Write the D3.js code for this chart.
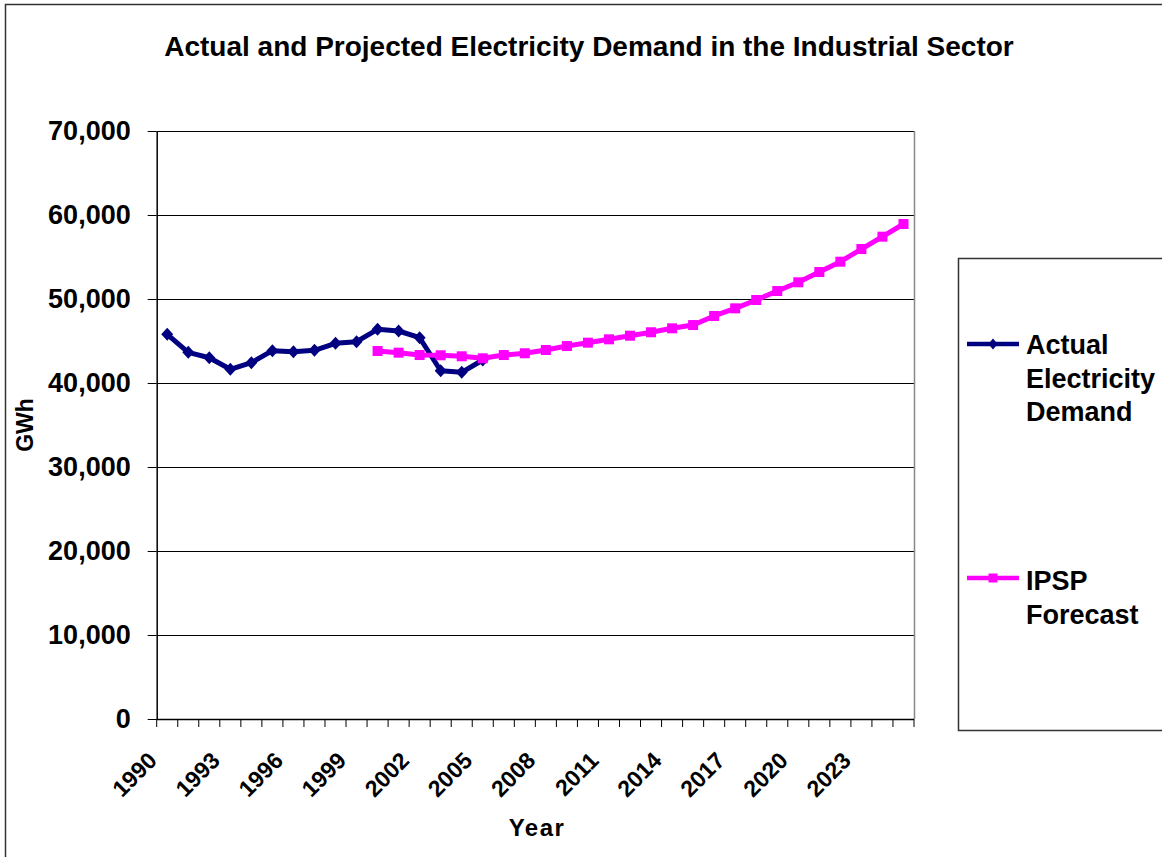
<!DOCTYPE html>
<html>
<head>
<meta charset="utf-8">
<script src="https://cdn.jsdelivr.net/npm/d3@7"></script>
<style>
  html, body { margin: 0; padding: 0; background: #fff; }
  svg { display: block; font-family: "Liberation Sans", Arial, sans-serif; font-weight: bold; }
</style>
</head>
<body>
<svg id="chart" width="1162" height="857"></svg>
<script>
// ---- data ----
const years = d3.range(1990, 2026);            // categories 1990..2025
const xTickLabels = [1990, 1993, 1996, 1999, 2002, 2005, 2008, 2011, 2014, 2017, 2020, 2023];
const yTicks = [0, 10000, 20000, 30000, 40000, 50000, 60000, 70000];

const actualYears = d3.range(1990, 2006);
const actualValues = [45800, 43650, 43010, 41630, 42420, 43850, 43730, 43890, 44730, 44920,
                      46390, 46190, 45390, 41460, 41270, 42740];

const forecastYears = d3.range(2000, 2026);
const forecastValues = [43810, 43610, 43330, 43300, 43180, 42940, 43330, 43540, 43930, 44400,
                        44800, 45200, 45630, 46040, 46510, 46900, 47980, 48890, 49880, 50950,
                        51990, 53210, 54440, 55950, 57420, 58930];

const seriesNames = [["Actual", "Electricity", "Demand"], ["IPSP", "Forecast"]];
const title = "Actual and Projected Electricity Demand in the Industrial Sector";

// ---- layout ----
const svg = d3.select("#chart");
const plot = { left: 156.7, right: 914, top: 131, bottom: 719 };

const x = d3.scaleBand().domain(years).range([plot.left, plot.right]).padding(0);
const cx = d => x(d) + x.bandwidth() / 2;
const y = d3.scaleLinear().domain([0, 70000]).range([plot.bottom, plot.top]);

// custom diamond symbol (Excel-like, nearly square rotated)
const excelDiamond = (hw, hh) => ({
  draw(ctx) { ctx.moveTo(0, -hh); ctx.lineTo(hw, 0); ctx.lineTo(0, hh); ctx.lineTo(-hw, 0); ctx.closePath(); }
});

// outer border
svg.append("rect").attr("x", 5.5).attr("y", 4.5).attr("width", 1200).attr("height", 900)
  .attr("fill", "none").attr("stroke", "#333").attr("stroke-width", 1.5);

// title
svg.append("text").attr("x", 589).attr("y", 56).attr("text-anchor", "middle")
  .attr("font-size", 28).attr("fill", "#000").text(title);

// gridlines
svg.append("g").selectAll("line").data(yTicks.filter(d => d > 0)).join("line")
  .attr("x1", plot.left).attr("x2", plot.right)
  .attr("y1", d => Math.round(y(d)) + 0.5).attr("y2", d => Math.round(y(d)) + 0.5)
  .attr("stroke", "#000").attr("stroke-width", 1);

// right border of plot area
svg.append("line").attr("x1", plot.right + 0.5).attr("x2", plot.right + 0.5)
  .attr("y1", plot.top).attr("y2", plot.bottom)
  .attr("stroke", "#888").attr("stroke-width", 1.5);

// y axis
const yAxis = svg.append("g").attr("transform", `translate(${plot.left},0)`)
  .call(d3.axisLeft(y).tickValues(yTicks).tickFormat(d3.format(",")).tickSize(9).tickSizeOuter(0).tickPadding(17));
yAxis.select(".domain").attr("stroke", "#000").attr("stroke-width", 1.5);
yAxis.selectAll(".tick line").attr("stroke", "#000");
yAxis.selectAll(".tick text").attr("font-size", 27).attr("font-family", "Liberation Sans, Arial, sans-serif")
  .attr("font-weight", "bold").attr("fill", "#000");

// x axis line + ticks at category boundaries
svg.append("line").attr("x1", plot.left).attr("x2", plot.right)
  .attr("y1", plot.bottom + 0.5).attr("y2", plot.bottom + 0.5).attr("stroke", "#000").attr("stroke-width", 1.5);
const boundaries = years.map(d => x(d)).concat([x(years[years.length - 1]) + x.bandwidth()]);
svg.append("g").selectAll("line").data(boundaries).join("line")
  .attr("x1", d => d).attr("x2", d => d)
  .attr("y1", plot.bottom).attr("y2", plot.bottom + 8)
  .attr("stroke", "#000").attr("stroke-width", 1);

// x labels
svg.append("g").selectAll("text").data(xTickLabels).join("text")
  .attr("transform", d => `translate(${cx(d) - 9},${plot.bottom + 43}) rotate(-45)`)
  .attr("text-anchor", "end").attr("font-size", 23).attr("fill", "#000")
  .text(d => d);

// axis titles
svg.append("text").attr("x", 537).attr("y", 836).attr("text-anchor", "middle")
  .attr("font-size", 24).attr("letter-spacing", 1.5).attr("fill", "#000").text("Year");
svg.append("text").attr("transform", "translate(33,425) rotate(-90)").attr("text-anchor", "middle")
  .attr("font-size", 23).attr("fill", "#000").text("GWh");

// series
const navy = "#000080", magenta = "#FF00FF";
const line = d3.line().x(d => cx(d[0])).y(d => y(d[1]));
const actual = actualYears.map((d, i) => [d, actualValues[i]]);
const forecast = forecastYears.map((d, i) => [d, forecastValues[i]]);

svg.append("path").datum(actual).attr("d", line).attr("fill", "none")
  .attr("stroke", navy).attr("stroke-width", 5).attr("stroke-linejoin", "round");
svg.append("g").selectAll("path").data(actual).join("path")
  .attr("d", d3.symbol(excelDiamond(6, 6.5))())
  .attr("transform", d => `translate(${cx(d[0])},${y(d[1])})`)
  .attr("fill", navy);

svg.append("path").datum(forecast).attr("d", line).attr("fill", "none")
  .attr("stroke", magenta).attr("stroke-width", 5).attr("stroke-linejoin", "round");
svg.append("g").selectAll("rect").data(forecast).join("rect")
  .attr("x", d => cx(d[0]) - 5).attr("y", d => y(d[1]) - 5)
  .attr("width", 10).attr("height", 10).attr("fill", magenta);

// legend
svg.append("rect").attr("x", 958.5).attr("y", 258.5).attr("width", 400).attr("height", 472)
  .attr("fill", "none").attr("stroke", "#333").attr("stroke-width", 1.5);

const legendItems = [
  { name: seriesNames[0], color: navy, ly: 344, base: 354, marker: "diamond" },
  { name: seriesNames[1], color: magenta, ly: 578, base: 590, marker: "square" }
];
legendItems.forEach(it => {
  svg.append("line").attr("x1", 967).attr("x2", 1019).attr("y1", it.ly).attr("y2", it.ly)
    .attr("stroke", it.color).attr("stroke-width", 4.5);
  if (it.marker === "diamond") {
    svg.append("path").attr("d", d3.symbol(excelDiamond(4.5, 5.5))())
      .attr("transform", `translate(993,${it.ly})`).attr("fill", it.color);
  } else {
    svg.append("rect").attr("x", 993 - 4.5).attr("y", it.ly - 4.5).attr("width", 9).attr("height", 9)
      .attr("fill", it.color);
  }
  const t = svg.append("text").attr("x", 1026).attr("y", it.base).attr("font-size", 27).attr("fill", "#000");
  it.name.forEach((s, i) => t.append("tspan").attr("x", 1026).attr("y", it.base + i * 33.5).text(s));
});
</script>
</body>
</html>
